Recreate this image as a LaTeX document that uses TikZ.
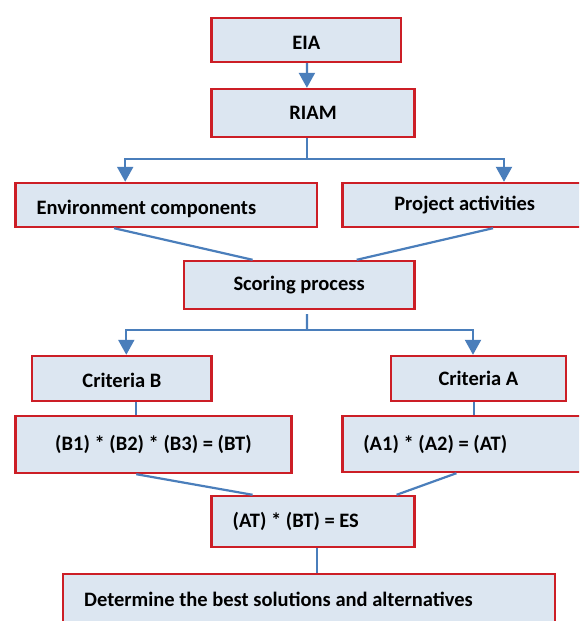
\documentclass[tikz,border=0pt]{standalone}
\usepackage{fontspec}
\setmainfont{Carlito}
\usepackage{tikz}
\usetikzlibrary{arrows.meta,positioning,calc}
\definecolor{FCred}{RGB}{204,30,38}
\definecolor{FCblue}{RGB}{74,126,187}
\definecolor{FClight}{RGB}{220,230,241}
\tikzset{
  box/.style={draw=FCred,line width=2.4pt,fill=FClight,text=black,align=center,
              font=\fontsize{20.5}{24}\selectfont\bfseries,inner sep=0pt},
  boxl/.style={box,align=flush left},
  low/.style={text height=18.5pt,text depth=0pt},
  arr/.style={-{Triangle[length=15pt,width=16pt]},line width=2.2pt,draw=FCblue},
  ln/.style={line width=2.2pt,draw=FCblue}
}
\begin{document}
\begin{tikzpicture}[x=1pt,y=-1pt]
  \useasboundingbox (0,0) rectangle (579,621);
  \clip (0,0) rectangle (579,621);
  \fill[white] (0,0) rectangle (579,621);

  \node[box,low,minimum width=189.4pt,minimum height=44pt] (eia) at (306.3,40) {EIA};
  \node[box,minimum width=202.7pt,minimum height=48pt] (riam) at (313,113) {RIAM};
  \node[boxl,low,text width=259.3pt,inner xsep=21pt,minimum height=44pt] (env) at (166.2,205) {Environment components};
  \node[boxl,text width=219.4pt,inner xsep=52pt,minimum height=44pt] (proj) at (504,205) {Project activities};
  \node[box,minimum width=230.4pt,minimum height=48pt] (scoring) at (299.1,285) {Scoring process};
  \node[box,low,minimum width=179.5pt,minimum height=45pt] (critB) at (121.9,378.5) {Criteria B};
  \node[box,minimum width=175pt,minimum height=45pt] (critA) at (478.5,378.5) {Criteria A};
  \node[box,minimum width=275.9pt,minimum height=57pt] (formB) at (153.4,444.5) {(B1) * (B2) * (B3) = (BT)};
  \node[boxl,text width=281.4pt,inner xsep=21pt,minimum height=56pt] (formA) at (504,444) {(A1) * (A2) = (AT)};
  \node[boxl,text width=160.7pt,inner xsep=21pt,minimum height=51pt] (es) at (313,521.5) {(AT) * (BT) = ES};
  \node[boxl,text width=449.9pt,inner xsep=21pt,minimum height=50pt] (final) at (309.1,599) {Determine the best solutions and alternatives};

  \coordinate (rsplit) at (306.9,159);
  \coordinate (ssplit) at (306.9,330);

  \draw[arr] ([xshift=0.6pt]eia.south) -- ([xshift=-6.1pt]riam.north);
  \draw[ln] ([xshift=-6.1pt]riam.south) -- (rsplit);
  \draw[arr] (rsplit) -| ([xshift=-41pt]env.north);
  \draw[arr] (rsplit) -| (proj.north);

  \draw[ln] ([xshift=-52.1pt]env.south) -- ([xshift=-46.5pt]scoring.north);
  \draw[ln] ([xshift=-11pt]proj.south) -- ([xshift=57.6pt]scoring.north);

  \draw[ln] ([xshift=7.8pt,yshift=-4pt]scoring.south) -- (ssplit);
  \draw[arr] (ssplit) -| ([xshift=4.4pt]critB.north);
  \draw[arr] (ssplit) -| ([xshift=-5.5pt]critA.north);

  \draw[ln] ([xshift=14.4pt]critB.south) -- ([xshift=-17.1pt]formB.north);
  \draw[ln] ([xshift=-4.4pt]critA.south) -- ([xshift=-29.9pt]formA.north);

  \draw[ln] ([xshift=-17.1pt]formB.south) -- ([xshift=-60.4pt]es.north);
  \draw[ln] ([xshift=-47.6pt]formA.south) -- ([xshift=83.6pt]es.north);
  \draw[ln] ([xshift=3.8pt]es.south) -- ([xshift=7.7pt]final.north);
\end{tikzpicture}
\end{document}
